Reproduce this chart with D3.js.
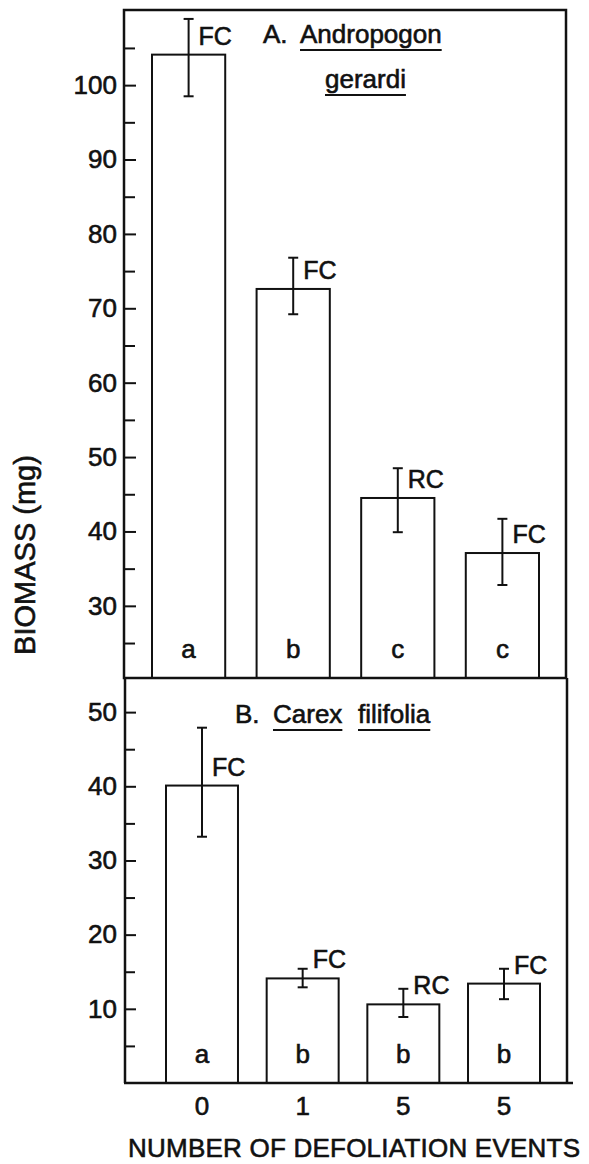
<!DOCTYPE html>
<html>
<head>
<meta charset="utf-8">
<script src="https://cdn.jsdelivr.net/npm/d3@7"></script>
<style>
body { margin: 0; background: #fff; }
text { font-family: "Liberation Sans", Arial, sans-serif; fill: #111; stroke: #111; stroke-width: 0.6px; }
</style>
</head>
<body>
<script>
// values
var events = ["0", "1", "5", "5"]
var clipping = ["FC", "FC", "RC", "FC"]

var andropogonMean = [104.1, 72.6, 44.5, 37.1]
var andropogonHi = [108.9, 76.8, 48.5, 41.7]
var andropogonLo = [98.5, 69.2, 39.9, 32.8]
var andropogonGroup = ["a", "b", "c", "c"]

var carexMean = [40.1, 14.1, 10.6, 13.4]
var carexHi = [47.9, 15.4, 12.7, 15.4]
var carexLo = [33.2, 12.9, 8.9, 11.3]
var carexGroup = ["a", "b", "b", "b"]

var topMajor = [30, 40, 50, 60, 70, 80, 90, 100]
var topMinor = [25, 35, 45, 55, 65, 75, 85, 95, 105]
var botMajor = [10, 20, 30, 40, 50]
var botMinor = [5, 15, 25, 35, 45]

var W = 589, H = 1164
var left = 124, right = 566
var topY0 = 10, midY = 678, botY = 1083

var svg = d3.select("body").append("svg")
	.attr("width", W)
	.attr("height", H)

var ink = "#111"

function panel(opts) {
	var g = svg.append("g")

	var x = d3.scaleBand()
		.domain(d3.range(events.length))
		.range(opts.xr)
		.paddingInner(opts.pad)
		.paddingOuter(0)

	var y = d3.scaleLinear()
		.domain(opts.domain)
		.range([opts.y1, opts.y0])

	// major + minor ticks, pointing into the frame
	var major = d3.axisLeft(y).tickValues(opts.major).tickSize(-12).tickPadding(7)
	var minor = d3.axisLeft(y).tickValues(opts.minor).tickSize(-11).tickFormat("")

	var ga = g.append("g").attr("transform", "translate(" + left + ",0)").call(major)
	var gm = g.append("g").attr("transform", "translate(" + left + ",0)").call(minor)
	ga.select(".domain").remove()
	gm.select(".domain").remove()
	g.selectAll(".tick line").attr("stroke", ink).attr("stroke-width", 2)
	ga.selectAll(".tick text")
		.style("font-size", "26px")
		.style("font-family", "Liberation Sans, Arial, sans-serif")
		.attr("fill", ink)

	// bars
	g.selectAll("rect.bar").data(opts.mean).enter().append("rect")
		.attr("class", "bar")
		.attr("x", function(d, i) { return x(i) })
		.attr("width", x.bandwidth())
		.attr("y", function(d) { return y(d) })
		.attr("height", function(d) { return opts.y1 - y(d) })
		.attr("fill", "#fff")
		.attr("stroke", ink)
		.attr("stroke-width", 2)

	// error bars
	var cx = function(i) { return x(i) + x.bandwidth() / 2 }
	var eb = g.selectAll("g.err").data(opts.mean).enter().append("g").attr("class", "err")
	eb.append("line")
		.attr("x1", function(d, i) { return cx(i) })
		.attr("x2", function(d, i) { return cx(i) })
		.attr("y1", function(d, i) { return y(opts.lo[i]) })
		.attr("y2", function(d, i) { return y(opts.hi[i]) })
	eb.append("line")
		.attr("x1", function(d, i) { return cx(i) - 5 })
		.attr("x2", function(d, i) { return cx(i) + 5 })
		.attr("y1", function(d, i) { return y(opts.hi[i]) })
		.attr("y2", function(d, i) { return y(opts.hi[i]) })
	eb.append("line")
		.attr("x1", function(d, i) { return cx(i) - 5 })
		.attr("x2", function(d, i) { return cx(i) + 5 })
		.attr("y1", function(d, i) { return y(opts.lo[i]) })
		.attr("y2", function(d, i) { return y(opts.lo[i]) })
	eb.selectAll("line").attr("stroke", ink).attr("stroke-width", 2)

	// FC / RC next to the error bar
	g.selectAll("text.clip").data(clipping).enter().append("text")
		.attr("class", "clip")
		.attr("x", function(d, i) { return cx(i) + 10 })
		.attr("y", function(d, i) { return y(opts.mean[i]) - 10 })
		.style("font-size", "25px")
		.text(function(d) { return d })

	// significance letters
	g.selectAll("text.grp").data(opts.group).enter().append("text")
		.attr("class", "grp")
		.attr("x", function(d, i) { return cx(i) })
		.attr("y", opts.y1 - 20)
		.attr("text-anchor", "middle")
		.style("font-size", "26px")
		.text(function(d) { return d })

	return { x: x, y: y, g: g }
}

var pA = panel({
	xr: [152, 539], pad: 0.30,
	domain: [20.3, 110.1], y0: topY0, y1: midY,
	major: topMajor, minor: topMinor,
	mean: andropogonMean, hi: andropogonHi, lo: andropogonLo, group: andropogonGroup
})

var pB = panel({
	xr: [166, 540], pad: 0.285,
	domain: [0, 54.6], y0: midY, y1: botY,
	major: botMajor, minor: botMinor,
	mean: carexMean, hi: carexHi, lo: carexLo, group: carexGroup
})

// frame
var frame = svg.append("g").attr("stroke", ink).attr("stroke-width", 2.5).attr("fill", "none")
frame.append("rect").attr("x", left).attr("y", topY0).attr("width", right - left).attr("height", midY - topY0)
frame.append("line").attr("x1", left + 1).attr("x2", left + 1).attr("y1", midY).attr("y2", botY)
frame.append("line").attr("x1", right + 1).attr("x2", right + 1).attr("y1", midY).attr("y2", botY)
frame.append("line").attr("x1", left).attr("x2", right + 7).attr("y1", botY).attr("y2", botY)

// x axis labels
var xa = svg.append("g").attr("transform", "translate(0," + botY + ")")
	.call(d3.axisBottom(pB.x).tickSize(0).tickPadding(14).tickFormat(function(i) { return events[i] }))
xa.select(".domain").remove()
xa.selectAll("text")
	.style("font-size", "26px")
	.style("font-family", "Liberation Sans, Arial, sans-serif")
	.attr("fill", ink)

svg.append("text")
	.attr("x", 128)
	.attr("y", 1157)
	.attr("textLength", 452)
	.style("font-size", "26px")
	.text("NUMBER OF DEFOLIATION EVENTS")

svg.append("text")
	.attr("transform", "translate(35,555) rotate(-90)")
	.attr("text-anchor", "middle")
	.style("font-size", "29px")
	.text("BIOMASS (mg)")

// species titles with underlines
function title(x, y, s, underline) {
	var t = svg.append("text").attr("x", x).attr("y", y).style("font-size", "26px").text(s)
	if (underline) {
		var w = t.node().getComputedTextLength()
		svg.append("line")
			.attr("x1", x).attr("x2", x + w)
			.attr("y1", y + 7).attr("y2", y + 7)
			.attr("stroke", ink).attr("stroke-width", 2)
	}
}
title(263, 43, "A.", false)
title(300, 43, "Andropogon", true)
title(325, 88, "gerardi", true)
title(235, 723, "B.", false)
title(273, 723, "Carex", true)
title(358, 723, "filifolia", true)
</script>
</body>
</html>
